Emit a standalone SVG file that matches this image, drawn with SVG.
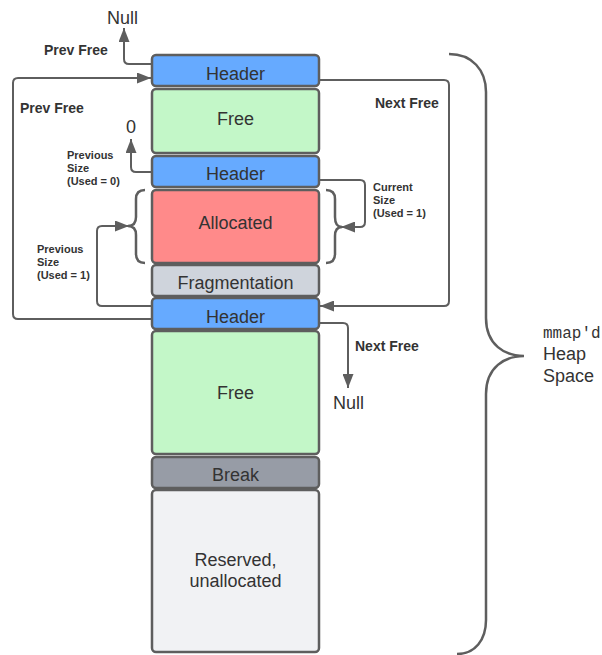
<svg xmlns="http://www.w3.org/2000/svg" width="602" height="655" viewBox="0 0 602 655">
  <defs>
    <marker id="arrow" viewBox="0 0 14 11" refX="14" refY="5.5" markerWidth="14" markerHeight="11" markerUnits="userSpaceOnUse" orient="auto">
      <path d="M0,0 L14,5.5 L0,11 z" fill="#5e5e5e"/>
    </marker>
  </defs>
  <style>
    .blk { stroke: #5e5e5e; stroke-width: 2.5; }
    .hdr { fill: #66aaff; }
    .free { fill: #c3f7c8; }
    .alloc { fill: #ff8a8a; }
    .frag { fill: #cfd4dc; }
    .brk { fill: #979ca6; }
    .rsv { fill: #f1f2f4; }
    .lbl { font-family: "Liberation Sans", Arial, sans-serif; font-size: 18px; fill: #333; text-anchor: middle; }
    .bold { font-family: "Liberation Sans", Arial, sans-serif; font-size: 14px; font-weight: bold; fill: #333; }
    .small { font-family: "Liberation Sans", Arial, sans-serif; font-size: 11px; font-weight: bold; fill: #333; }
    .plain { font-family: "Liberation Sans", Arial, sans-serif; font-size: 18px; fill: #333; }
    .mono { font-family: "Liberation Mono", "DejaVu Sans Mono", monospace; font-size: 16px; fill: #333; }
    .conn { fill: none; stroke: #5e5e5e; stroke-width: 2; }
    .brace { fill: none; stroke: #5e5e5e; stroke-width: 2.5; }
  </style>

  <!-- heap blocks -->
  <g id="header1"><rect class="blk hdr" x="152" y="55" width="167" height="31" rx="4"/><text class="lbl" x="235.5" y="79.5">Header</text></g>
  <g id="free1"><rect class="blk free" x="152" y="89" width="167" height="64" rx="4"/><text class="lbl" x="235.5" y="125">Free</text></g>
  <g id="header2"><rect class="blk hdr" x="152" y="156" width="167" height="31" rx="4"/><text class="lbl" x="235.5" y="180">Header</text></g>
  <g id="allocated"><rect class="blk alloc" x="152" y="190" width="167" height="73" rx="4"/><text class="lbl" x="235.5" y="229">Allocated</text></g>
  <g id="fragmentation"><rect class="blk frag" x="152" y="265" width="167" height="31" rx="4"/><text class="lbl" x="235.5" y="289">Fragmentation</text></g>
  <g id="header3"><rect class="blk hdr" x="152" y="298" width="167" height="31" rx="4"/><text class="lbl" x="235.5" y="322.5">Header</text></g>
  <g id="free2"><rect class="blk free" x="152" y="331" width="167" height="123" rx="4"/><text class="lbl" x="235.5" y="399">Free</text></g>
  <g id="break"><rect class="blk brk" x="152" y="457" width="167" height="31" rx="4"/><text class="lbl" x="235.5" y="481">Break</text></g>
  <g id="reserved"><rect class="blk rsv" x="152" y="490" width="167" height="162" rx="4"/><text class="lbl" x="235.5" y="566">Reserved,</text><text class="lbl" x="235.5" y="587">unallocated</text></g>

  <!-- pointers between blocks -->
  <g id="connectors">
    <path class="conn" d="M152,64 H129 Q124,64 124,59 V28" marker-end="url(#arrow)"/>
    <path class="conn" d="M152,319 H18 Q13,319 13,314 V83 Q13,78 18,78 H151" marker-end="url(#arrow)"/>
    <path class="conn" d="M319,80 H444 Q449,80 449,85 V301 Q449,306 444,306 H320" marker-end="url(#arrow)"/>
    <path class="conn" d="M152,172 H136 Q131,172 131,167 V139" marker-end="url(#arrow)"/>
    <path class="conn" d="M152,306 H102 Q97,306 97,301 V231 Q97,226 102,226 H129" marker-end="url(#arrow)"/>
    <path class="conn" d="M319,180 H360 Q365,180 365,185 V222 Q365,227 360,227 H341" marker-end="url(#arrow)"/>
    <path class="conn" d="M319,323 H343 Q348,323 348,328 V388" marker-end="url(#arrow)"/>
    <!-- braces around the allocated block -->
    <path class="brace" d="M145,190 Q136,190 136,199 V217 Q136,226 128,226 Q136,226 136,235 V254 Q136,263 145,263"/>
    <path class="brace" d="M326,190 Q335,190 335,199 V217 Q335,227 342,227 Q335,227 335,236 V254 Q335,263 326,263"/>
    <!-- brace around the whole heap -->
    <path class="brace" d="M449,54 C472,54 486,70 486,92 V318 C486,345 505,356 524,356 C505,356 486,367 486,394 V620 C486,640 475,654 457,654"/>
  </g>

  <!-- labels -->
  <text class="plain" x="107" y="24">Null</text>
  <text class="bold" x="44" y="55">Prev Free</text>
  <text class="bold" x="20" y="113">Prev Free</text>
  <text class="bold" x="375" y="108">Next Free</text>
  <text class="plain" x="126" y="133">0</text>
  <text class="small" x="67" y="159">Previous</text>
  <text class="small" x="67" y="172">Size</text>
  <text class="small" x="67" y="185">(Used = 0)</text>
  <text class="small" x="373" y="191">Current</text>
  <text class="small" x="373" y="204">Size</text>
  <text class="small" x="373" y="217">(Used = 1)</text>
  <text class="small" x="37" y="253">Previous</text>
  <text class="small" x="37" y="266">Size</text>
  <text class="small" x="37" y="279">(Used = 1)</text>
  <text class="bold" x="355" y="351">Next Free</text>
  <text class="plain" x="333" y="409">Null</text>
  <text class="mono" x="543" y="338">mmap'd</text>
  <text class="plain" x="543" y="360">Heap</text>
  <text class="plain" x="543" y="382">Space</text>
</svg>
